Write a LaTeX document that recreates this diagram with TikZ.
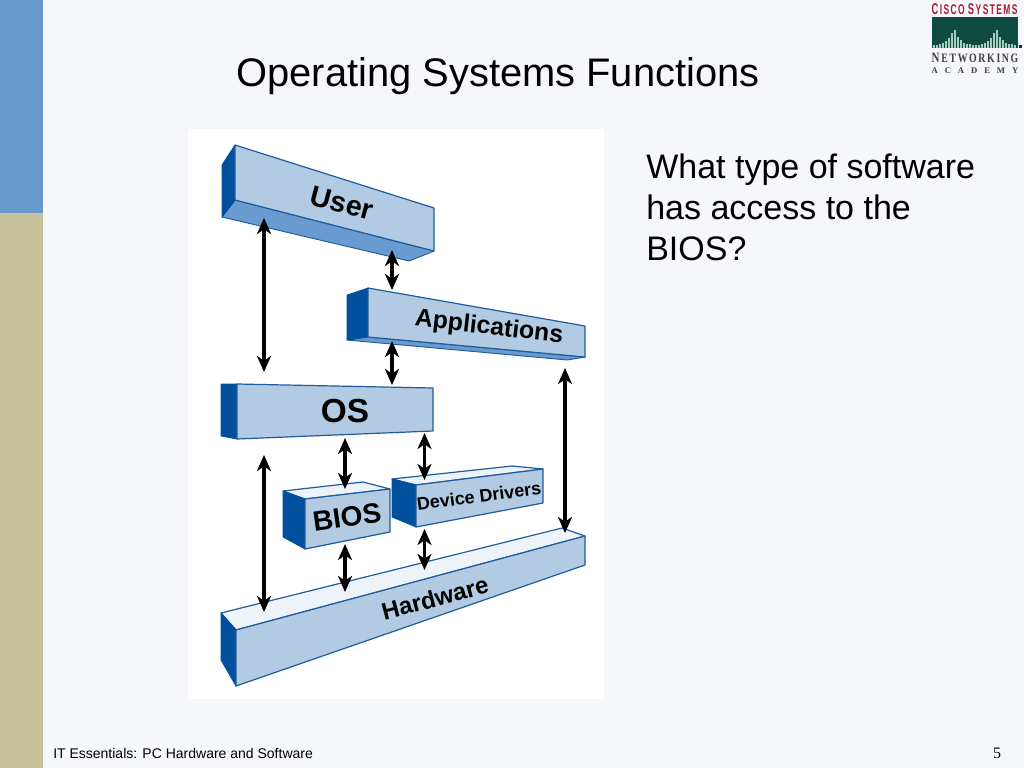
\documentclass[tikz,border=0pt]{standalone}
\usepackage{fontspec}
\usepackage{graphicx}
\setmainfont{Liberation Sans}
\newfontfamily\serifface{Liberation Serif}
\usetikzlibrary{arrows.meta}
\definecolor{pagebg}{HTML}{F6F7FA}
\definecolor{sideblue}{HTML}{6699CC}
\definecolor{sidekhaki}{HTML}{C4C09A}
\definecolor{faceblue}{HTML}{B2CBE3}
\definecolor{darkblue}{HTML}{00509E}
\definecolor{midblue}{HTML}{6A9BD0}
\definecolor{topwhite}{HTML}{EEF3F9}
\definecolor{edgeblue}{HTML}{1F5C9C}
\definecolor{logogreen}{HTML}{0F4A40}
\definecolor{logobar}{HTML}{A9CDBF}
\definecolor{logored}{HTML}{A81E36}
\tikzset{
  x=0.75pt,y=-0.75pt,
  front/.style={fill=faceblue,draw=edgeblue,line width=0.9pt,line join=round},
  side/.style={fill=darkblue,draw=darkblue,line width=0.6pt,line join=round},
  under/.style={fill=midblue,draw=edgeblue,line width=0.7pt,line join=round},
  lid/.style={fill=topwhite,draw=edgeblue,line width=0.9pt,line join=round},
  updown/.style={{Stealth[length=12pt,width=10.5pt,inset=3.5pt]}-{Stealth[length=12pt,width=10.5pt,inset=3.5pt]},line width=2.6pt,black},
  layer/.style={inner sep=0pt,text=black},
  para/.style={anchor=base west,inner sep=0pt,font=\fontsize{25.5}{25.5}\selectfont},
}
\begin{document}
\begin{tikzpicture}
\useasboundingbox (0,0) rectangle (1024,768);
\fill[pagebg] (0,0) rectangle (1024,768);
\fill[sideblue] (0,0) rectangle (43,213);
\fill[sidekhaki] (0,213) rectangle (43,768);
\fill[white] (188,129) rectangle (604,699);

% User
\draw[under] (222,217) -- (409,261) -- (434,251) -- (235,200) -- cycle;
\draw[side] (235,145) -- (222,165) -- (222,217) -- (235,200) -- cycle;
\draw[front] (235,145) -- (434,208) -- (434,251) -- (235,200) -- cycle;
% Applications
\draw[under] (347,340) -- (567,360) -- (585,357) -- (368,337) -- cycle;
\draw[side] (368,288) -- (347,295) -- (347,340) -- (368,337) -- cycle;
\draw[front] (368,288) -- (585,326) -- (585,357) -- (368,337) -- cycle;
% OS
\draw[side] (237,384) -- (221,384) -- (221,436) -- (237,439) -- cycle;
\draw[front] (237,384) -- (433,388) -- (433,431) -- (237,439) -- cycle;
% BIOS
\draw[lid] (283,491) -- (363,482) -- (390,489) -- (305,499) -- cycle;
\draw[side] (283,491) -- (305,499) -- (305,549) -- (283,537) -- cycle;
\draw[front] (305,499) -- (390,489) -- (390,532) -- (305,549) -- cycle;
% Device Drivers
\draw[lid] (392,479) -- (512,466) -- (543,469) -- (416,485) -- cycle;
\draw[side] (392,479) -- (416,485) -- (416,527) -- (392,517) -- cycle;
\draw[front] (416,485) -- (543,469) -- (543,503) -- (416,527) -- cycle;
% Hardware
\draw[lid] (221,613) -- (562,528) -- (585,536) -- (236,630) -- cycle;
\draw[side] (221,613) -- (236,630) -- (236,686) -- (221,660) -- cycle;
\draw[front] (236,630) -- (585,536) -- (585,565) -- (236,686) -- cycle;

% layer labels
\node[layer,rotate=-15,font=\fontsize{21.5}{21.5}\selectfont\bfseries] (user) at (342,203) {User};
\node[layer,rotate=-6.5,font=\fontsize{18.6}{18.6}\selectfont\bfseries] (apps) at (489,328) {Applications};
\node[layer,font=\fontsize{25}{25}\selectfont\bfseries] (os) at (345,411) {OS};
\node[layer,rotate=8,font=\fontsize{21}{21}\selectfont\bfseries] (bios) at (347,517) {BIOS};
\node[layer,rotate=7.5,font=\fontsize{13.5}{13.5}\selectfont\bfseries] (drivers) at (479,496) {Device Drivers};
\node[layer,rotate=15,font=\fontsize{18}{18}\selectfont\bfseries] (hardware) at (435,598) {Hardware};

% connector ends
\coordinate (userA) at (264,218);
\coordinate (osA) at (264,372);
\coordinate (userB) at (392,250);
\coordinate (appB) at (392,290);
\coordinate (appC) at (392,341);
\coordinate (osC) at (392,385);
\coordinate (osD) at (345,438);
\coordinate (biosD) at (345,489);
\coordinate (osE) at (424.5,433);
\coordinate (drvE) at (424.5,480);
\coordinate (biosF) at (345,544);
\coordinate (hwF) at (345,592);
\coordinate (drvG) at (424.5,529);
\coordinate (hwG) at (424.5,570);
\coordinate (osH) at (264,455);
\coordinate (hwH) at (264,612);
\coordinate (appI) at (565,368);
\coordinate (hwI) at (565,533);
\draw[updown] (userA) -- (osA);
\draw[updown] (userB) -- (appB);
\draw[updown] (appC) -- (osC);
\draw[updown] (osD) -- (biosD);
\draw[updown] (osE) -- (drvE);
\draw[updown] (biosF) -- (hwF);
\draw[updown] (drvG) -- (hwG);
\draw[updown] (osH) -- (hwH);
\draw[updown] (appI) -- (hwI);

% slide text
\node[anchor=base,inner sep=0pt,font=\fontsize{29.9}{29.9}\selectfont] (title) at (498,86) {Operating Systems Functions};
\node[para] (l1) at (646,178) {What type of software};
\node[para] (l2) at (646,219) {has access to the};
\node[para] (l3) at (646,260) {BIOS?};
\node[anchor=base west,inner sep=0pt,font=\fontsize{10.5}{10.5}\selectfont] (foot) at (53,758) {IT Essentials: PC Hardware and Software};
\node[anchor=base,inner sep=0pt,font=\serifface\fontsize{12}{12}\selectfont] (num) at (997,758) {5};

% logo
\node[anchor=base,inner sep=0pt,text=logored] (cisco) at (974.5,14) {\resizebox{64.5pt}{8.2pt}{\bfseries C\,{\small I\,S\,C\,O}\,\,S\,{\small Y\,S\,T\,E\,M\,S}}};
\fill[logogreen] (932,17) rectangle (1018,48);
\foreach \bx in {933,936,...,1016}{
  \pgfmathsetmacro{\bd}{min(abs(\bx-953),abs(\bx-995))}
  \pgfmathsetmacro{\bh}{2.5+18.5*exp(-\bd/5.5)}
  \fill[logobar] (\bx,48) rectangle (\bx+1.8,48-\bh);
}
\fill[logogreen!70!black] (1019,45) rectangle (1022,48);
\node[anchor=base,inner sep=0pt,text=black!75] (net) at (975,62) {\resizebox{65pt}{7pt}{\serifface\bfseries N\,{\small E\,T\,W\,O\,R\,K\,I\,N\,G}}};
\node[anchor=base,inner sep=0pt,text=black!75,font=\serifface\bfseries\fontsize{6.5}{6.5}\selectfont] (acad) at (975,73) {\hbox to 65pt{A\hfil C\hfil A\hfil D\hfil E\hfil M\hfil Y}};
\end{tikzpicture}
\end{document}
